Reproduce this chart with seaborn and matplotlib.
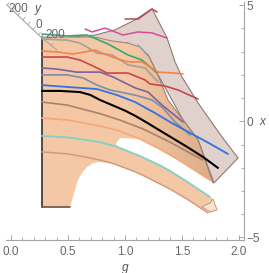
import numpy as np
import pandas as pd
import matplotlib
matplotlib.use("Agg")
import matplotlib.pyplot as plt
from matplotlib.patches import Polygon
import seaborn as sns

# curves: (g, x, colour)
black_g = [.272, .43, .606, .694, .781, .887, 1.001, 1.089, 1.194, 1.308, 1.396, 1.484, 1.545, 1.686, 1.817]
black_x = [1.31, 1.31, 1.26, 1.14, .92, .70, .46, .24, -.06, -.40, -.66, -.92, -1.10, -1.54, -2.01]
blue_g = [.272, .492, .755, .931, 1.089, 1.203, 1.264, 1.396, 1.572, 1.738, 1.905]
blue_x = [1.56, 1.48, 1.39, 1.13, .83, .52, .36, -.03, -.5, -.94, -1.41]
slate_g = [.272, .492, .632, .755, .869, 1.089, 1.238, 1.335, 1.44, 1.572]
slate_x = [2.0, 2.0, 1.87, 1.56, 1.35, 1.13, .92, .57, -.03, -.59]
purple_g = [.272, .404, .579, .781, .896, 1.089, 1.203, 1.326, 1.51]
purple_x = [2.3, 2.25, 2.12, 2.12, 1.91, 1.44, 1.26, .70, -.03]
red_g = [.272, .492, .606, .738, .843, 1.027, 1.177, 1.22, 1.352, 1.466, 1.642]
red_x = [2.77, 2.77, 2.64, 2.34, 2.08, 2.08, 1.78, 1.61, 1.52, 1.35, .96]
orange_g = [.272, .404, .544, .738, .887, 1.027, 1.15, 1.291, 1.44, 1.51]
orange_x = [3.03, 2.99, 2.9, 3.07, 2.77, 2.56, 2.56, 2.12, 2.08, 2.04]
gray_g = [.272, .492, .606, .755, .887, 1.027, 1.177, 1.291]
gray_x = [3.55, 3.5, 3.37, 2.94, 2.86, 2.43, 2.3, 1.69]
green_g = [.272, .492, .667, .852, 1.027, 1.15, 1.282]
green_x = [3.76, 3.68, 3.72, 3.33, 2.86, 2.64, 2.08]
pink_g = [.65, .711, .825, .983, 1.115, 1.238, 1.37]
pink_x = [3.98, 3.85, 4.02, 3.72, 3.85, 3.81, 3.59]
darkred_g = [1.001, 1.115, 1.238, 1.282]
darkred_x = [4.41, 4.41, 4.84, 4.71]
steel_g = [1.115, 1.194]
steel_x = [3.29, 2.86]
brown_g = [.272, .492, .781, .957, 1.159, 1.396, 1.545, 1.686]
brown_x = [.83, .70, .33, .05, -.33, -.9, -1.3, -1.67]
salmon_g = [.272, .492, .781, .957, 1.133, 1.308, 1.457, 1.572, 1.747]
salmon_x = [.14, .06, -.2, -.42, -.76, -1.2, -1.62, -1.98, -2.53]
teal_g = [.272, .518, .781, .931, 1.133, 1.308, 1.396, 1.545, 1.747]
teal_x = [-.63, -.70, -.90, -1.10, -1.5, -1.9, -2.14, -2.6, -3.26]
tan_g = [.272, .492, .667, .781, .896, 1.071, 1.159, 1.396, 1.545, 1.73]
tan_x = [-1.32, -1.40, -1.55, -1.67, -1.82, -2.14, -2.33, -2.92, -3.35, -3.95]

curves = [
    (tan_g, tan_x, "#d39a78", 1.1),
    (teal_g, teal_x, "#7fd0c8", 1.3),
    (salmon_g, salmon_x, "#f7a878", 1.3),
    (brown_g, brown_x, "#a98368", 1.2),
    (darkred_g, darkred_x, "#b04a50", 1.1),
    (pink_g, pink_x, "#d64f96", 1.1),
    (steel_g, steel_x, "#8fa3b8", 1.1),
    (gray_g, gray_x, "#a0a0a0", 1.2),
    (green_g, green_x, "#35a877", 1.2),
    (orange_g, orange_x, "#f9814a", 1.2),
    (red_g, red_x, "#c9454f", 1.2),
    (purple_g, purple_x, "#7e5fa8", 1.2),
    (slate_g, slate_x, "#7d8fa5", 1.2),
    (blue_g, blue_x, "#2f74e0", 1.3),
    (black_g, black_x, "#000000", 1.5),
]

# orange surface outline
top_g = [.272, .738, .887, 1.027, 1.133, 1.203]
top_x = [3.63, 3.63, 3.46, 3.37, 3.2, 2.86]
inner_g = [1.203, 1.282, 1.378, 1.51, 1.642, 1.774]
inner_x = [2.86, 2.08, .92, .06, -.8, -2.66]
under_g = [1.747, 1.572, 1.457, 1.308, 1.133, .957, .922, .931, 1.133, 1.308, 1.396, 1.545, 1.747, 1.774, 1.809, 1.747,
           1.545, 1.396, 1.159, 1.071, .896, .781, .72, .667, .623, .588, .562, .536, .518, .272]
under_x = [-2.53, -1.98, -1.62, -1.2, -.76, -.72, -.94, -1.10, -1.5, -1.9, -2.14, -2.6, -3.26, -3.35, -3.82, -3.95,
           -3.35, -2.92, -2.33, -2.14, -1.82, -1.75, -1.8, -1.97, -2.23, -2.53, -2.96, -3.39, -3.69, -3.69]
band_g = top_g + inner_g[1:] + under_g
band_x = top_x + inner_x[1:] + under_x

# grey-pink surface outline
back_g = [.518, .738, .913, 1.089, 1.238, 1.37, 1.44, 1.501, 1.642, 1.747, 1.853, 1.993, 1.782, 1.642, 1.51, 1.282, 1.203, 1.027]
back_x = [3.63, 3.72, 3.94, 4.37, 4.85, 3.59, 2.56, 1.91, .79, .06, -.68, -1.58, -2.66, -.8, .06, 2.08, 2.86, 3.37]

# overlap of both surfaces
overlap_g = [.738, 1.027, 1.203, 1.282, 1.378, 1.51, 1.642, 1.774, 1.747, 1.572, 1.457, 1.308, 1.133, .957]
overlap_x = [3.63, 3.37, 2.86, 2.08, .92, .06, -.8, -2.66, -2.53, -1.98, -1.62, -1.2, -.76, -.42]

# small pale piece at the end
tip_g = [1.677, 1.747, 1.774, 1.809, 1.747]
tip_x = [-3.69, -3.52, -3.35, -3.82, -3.9]

# back axis running to the corner
diag_g = [-.035, .263, .404]
diag_x = [5.01, 3.63, 3.07]
diag_tick_g = [-.035, .015, .06, .105, .15, .195, .24, .263, .3, .35]
diag_tick_x = [5.01, 4.79, 4.58, 4.38, 4.18, 3.97, 3.73, 3.63, 3.47, 3.25]

g_ticks = [0.0, 0.5, 1.0, 1.5, 2.0]
x_ticks = [-5, 0, 5]

sns.set_style("white")
plt.rcParams["font.family"] = ["Liberation Sans", "DejaVu Sans"]

fig = plt.figure(figsize=(2.69, 2.73), dpi=100)
ax = fig.add_axes([6 / 269, 1 - 240 / 273, 237.5 / 269, 238 / 273])

ax.fill(back_g, back_x, facecolor="#e0d1cd", edgecolor="#8d7b72", lw=0.8, zorder=1)
ax.fill(band_g, band_x, facecolor="#f5c8a5", edgecolor="none", zorder=2)

# the shade of the back surface fades out to the left
shade = np.zeros((1, 64, 4))
shade[..., :3] = matplotlib.colors.to_rgb("#a4744f")
shade[..., 3] = np.clip(np.linspace(-0.08, 0.34, 64), 0, None)
im = ax.imshow(shade, extent=(.85, 1.8, -3, 4), aspect="auto", interpolation="bilinear", zorder=3)
im.set_clip_path(Polygon(np.column_stack([overlap_g, overlap_x]), transform=ax.transData))

ax.fill(tip_g, tip_x, facecolor="#f9e2d0", edgecolor="#b89580", lw=0.6, zorder=3)

# edges of the orange surface
sns.lineplot(x=[.272, .272], y=[3.63, -3.69], color="#3a3030", lw=1.2, sort=False, estimator=None, ax=ax, zorder=4)
sns.lineplot(x=[.272, .518], y=[-3.69, -3.69], color="#6b5245", lw=1.2, sort=False, estimator=None, ax=ax, zorder=4)
sns.lineplot(x=top_g, y=top_x, color="#a98a78", lw=0.8, ax=ax, zorder=4, sort=False, estimator=None)
sns.lineplot(x=inner_g, y=inner_x, color="#8d7b72", lw=0.7, ax=ax, zorder=4, sort=False, estimator=None)

for cg, cx, col, w in curves:
    df = pd.DataFrame({"g": cg, "x": cx})
    sns.lineplot(data=df, x="g", y="x", color=col, lw=w, sort=False, estimator=None, ax=ax, zorder=5)

# diagonal axis with its ticks
ax.plot(diag_g, diag_x, color="#a5a5a5", lw=0.8, zorder=6)
for tg, tx in zip(diag_tick_g, diag_tick_x):
    ax.plot([tg, tg + 0.018], [tx, tx + 0.1], color="#a5a5a5", lw=0.6, zorder=6)

ax.text(.06, 4.85, "200", ha="center", va="center", fontsize=8.5, color="#666666")
ax.text(.235, 4.85, "y", ha="center", va="center", fontsize=8.5, color="#555555", style="italic")
ax.text(.245, 4.14, "0", ha="center", va="center", fontsize=8.5, color="#666666")
ax.text(.39, 3.72, "200", ha="center", va="center", fontsize=8.5, color="#666666", zorder=6)

ax.set_xlim(-0.044, 2.041)
ax.set_ylim(-5.116, 5.142)

# axes on the bottom and the right
sns.despine(ax=ax, left=True, top=True, right=False, bottom=False)
for side in ["right", "bottom"]:
    ax.spines[side].set_color("#a5a5a5")
    ax.spines[side].set_linewidth(0.8)

ax.yaxis.tick_right()
ax.set_xticks(g_ticks)
ax.set_xticklabels(["0.0", "0.5", "1.0", "1.5", "2.0"])
ax.set_yticks(x_ticks)
ax.set_yticklabels(["\u22125", "0", "5"])
ax.set_xticks(np.arange(0, 2.01, 0.1), minor=True)
ax.set_yticks(np.arange(-5, 5.01, 1), minor=True)
ax.tick_params(which="major", direction="in", length=3.6, width=0.7, color="#a5a5a5",
               labelcolor="#666666", labelsize=8.5, bottom=True, right=True, left=False)
ax.tick_params(axis="x", which="major", pad=4)
ax.tick_params(axis="y", which="major", pad=2)
ax.tick_params(which="minor", direction="in", length=2, width=0.6, color="#a5a5a5",
               bottom=True, right=True, left=False)
ax.grid(False)

ax.set_xlabel("g", style="italic", fontsize=8.5, color="#555555", labelpad=3.5)
ax.set_ylabel("")
fig.text(262 / 269, 1 - 122 / 273, "x", style="italic", fontsize=8.5, color="#555555", ha="center", va="center")

fig.savefig("out.png", dpi=100)
